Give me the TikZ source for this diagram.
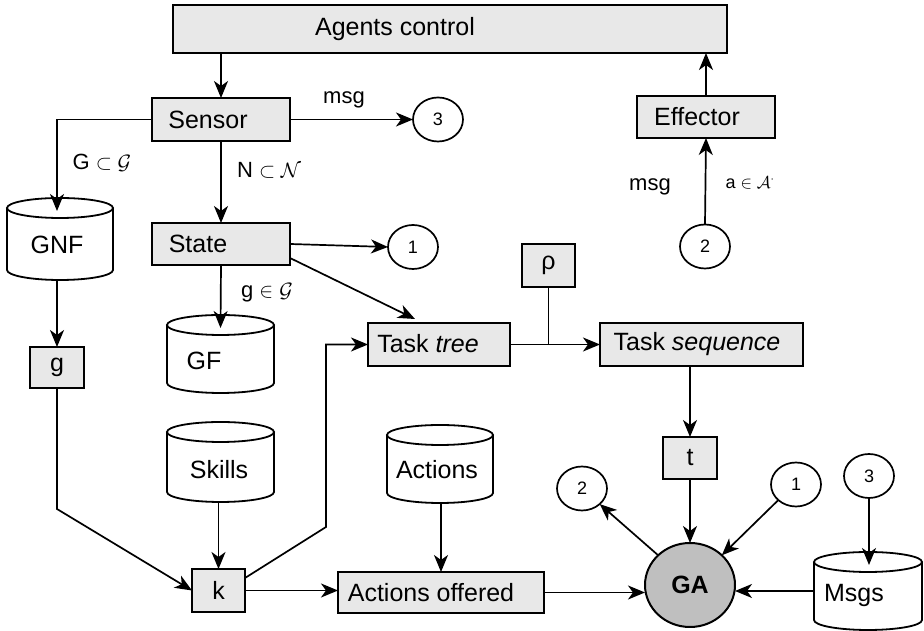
\documentclass[tikz,border=0pt]{standalone}
\usepackage{fontspec}
\setmainfont{Liberation Sans}
\usetikzlibrary{arrows.meta,shapes.geometric}
\newcommand\cylinderat[4]{%
  \node[cylbase, minimum width=#3, minimum height=#4] (#1) at (#2) {};
  \draw[cylline] ([yshift=-10pt]#1.north west) -- ([yshift=10pt]#1.south west)
     arc[start angle=180, end angle=360, x radius=#3/2, y radius=10pt] -- ([yshift=-10pt]#1.north east);
  \draw[cylline] ([yshift=-10pt]#1.north) ellipse [x radius=#3/2, y radius=10pt];
}
\tikzset{
  box/.style={draw, fill=black!9, line width=2pt, inner sep=0pt, outer sep=0pt},
  txt/.style={font=\fontsize{25}{27}\selectfont, inner sep=0pt},
  lbl/.style={font=\fontsize{22}{24}\selectfont, inner sep=0pt},
  small/.style={font=\fontsize{18}{20}\selectfont, inner sep=0pt},
  circ/.style={draw, ellipse, line width=1.7pt, minimum width=50pt, minimum height=44pt, inner sep=0pt, outer sep=0pt, font=\fontsize{18}{20}\selectfont},
  cylbase/.style={rectangle, draw=none, inner sep=0pt, outer sep=0pt},
  cylline/.style={line width=1.8pt},
  conn/.style={line width=1.7pt},
  arr/.style={line width=1.7pt, -{Stealth[length=17pt,width=14pt,inset=5pt]}},
}
\begin{document}
\begin{tikzpicture}[x=1pt,y=1pt]
\useasboundingbox (0,0) rectangle (924,631);
\fill[white] (0,0) rectangle (924,631);

% boxes
\node[box, minimum width=554pt, minimum height=48pt] (AC) at (450,602) {};
\node[txt] (ACt) at (395,602) {Agents control};
\node[box, minimum width=138pt, minimum height=43pt] (Sensor) at (221,511.5) {};
\node[txt] (Sensort) at (208,511) {Sensor};
\node[box, minimum width=138pt, minimum height=42pt] (State) at (221,387) {};
\node[txt] (Statet) at (198,387) {State};
\node[box, minimum width=138pt, minimum height=42pt] (Eff) at (706,514) {};
\node[txt] (Efft) at (697,514) {Effector};
\node[box, minimum width=53pt, minimum height=43pt, font=\fontsize{25}{27}\selectfont] (rho) at (548.5,365.5) {ρ};
\node[box, minimum width=54pt, minimum height=41pt, font=\fontsize{25}{27}\selectfont] (g) at (57,263.5) {g};
\node[box, minimum width=142pt, minimum height=43pt] (TT) at (439,286.5) {};
\node[txt] (TTt) at (428,287) {Task \textit{tree}};
\node[box, minimum width=203pt, minimum height=43pt] (TS) at (701.5,286.5) {};
\node[txt] (TSt) at (697,287) {Task \textit{sequence}};
\node[box, minimum width=54pt, minimum height=42pt, font=\fontsize{25}{27}\selectfont] (t) at (690,173) {t};
\node[box, minimum width=53pt, minimum height=43pt, font=\fontsize{25}{27}\selectfont] (k) at (218.5,40.5) {k};
\node[box, minimum width=206pt, minimum height=41pt] (AO) at (441,38.5) {};
\node[txt] (AOt) at (431,38.5) {Actions offered};
\node[draw, ellipse, fill=black!25, line width=2pt, minimum width=90pt, minimum height=84pt, inner sep=0pt, outer sep=0pt, font=\bfseries\fontsize{25}{27}\selectfont] (GA) at (690,46) {GA};

% circles
\node[circ] (c3a) at (438,511.5) {3};
\node[circ] (c1a) at (413,384) {1};
\node[circ] (c2a) at (705,384.5) {2};
\node[circ] (c2b) at (582,142.5) {2};
\node[circ] (c1b) at (796,146.5) {1};
\node[circ] (c3b) at (869,155) {3};

% cylinders
\cylinderat{GNF}{60,392}{106pt}{82pt}
\node[txt] (GNFt) at (57,386) {GNF};
\cylinderat{GF}{220.5,277}{107pt}{78pt}
\node[txt] (GFt) at (204,270) {GF};
\cylinderat{Skills}{220.5,169}{107pt}{80pt}
\node[txt] (Skillst) at (219,161) {Skills};
\cylinderat{Actions}{440,167}{106pt}{78pt}
\node[txt] (Actionst) at (437,161) {Actions};
\cylinderat{Msgs}{868,40}{108pt}{78pt}
\node[txt] (Msgst) at (854,36) {Msgs};

% labels
\node[lbl] (msg1) at (344,531) {msg};
\node[lbl] (Gsub) at (102,468) {G $\subset \mathcal{G}$};
\node[lbl] (Nsub) at (269,461) {N $\subset \mathcal{N}$};
\node[lbl] (gin) at (267,338) {g $\in$ $\mathcal{G}$};
\node[lbl] (msg2) at (650,444) {msg};
\node[small] (ain) at (750,448) {a $\in \mathcal{A}^{\cdot}$};

% helper coordinates
\coordinate (gk) at (57,122);
\coordinate (kt) at (326,104);

% connectors
\draw[arr] (AC.south -| Sensor) -- (Sensor.north);
\draw[arr] (Eff.north) -- (Eff.north |- AC.south);
\draw[arr] (Sensor.east) -- (c3a.west);
\draw[arr] (Sensor.west) -| ([yshift=-13pt]GNF.north -| g);
\draw[arr] (Sensor.south) -- (State.north);
\draw[arr] (State.east) -- (c1a.west);
\draw[arr] ([yshift=7pt]State.south east) -- ([xshift=-24pt,yshift=4pt]TT.north);
\draw[arr] (State.south) -- ([yshift=-13pt]GF.north);
\draw[arr] (GNF.south -| g) -- (g.north);
\draw[arr] (g.south) -- (gk) -- (k.west);
\draw[arr] ([yshift=-9pt]k.north east) -- (kt) |- (TT.west);
\draw[arr] (k.east) -- (k.east -| AO.west);
\draw[arr] (Skills.south -| k) -- (k.north);
\draw[arr] (Actions.south -| AO) -- (AO.north);
\draw[arr] (TT.east) -- (TS.west);
\draw[conn] (rho.south) -- (rho.south |- TT.east);
\draw[arr] (t.north |- TS.south) -- (t.north);
\draw[arr] (t.south) -- (GA.north);
\draw[arr] (GA.north west) -- (c2b.south east);
\draw[arr] (c1b.south west) -- (GA.north east);
\draw[arr] (c3b.south) -- ([yshift=-13pt]Msgs.north -| c3b);
\draw[arr] (Msgs.west) -- (Msgs.west -| GA.east);
\draw[arr] (AO.east) -- (AO.east -| GA.west);
\draw[arr] (c2a.north) -- (Eff.south);
\end{tikzpicture}
\end{document}
